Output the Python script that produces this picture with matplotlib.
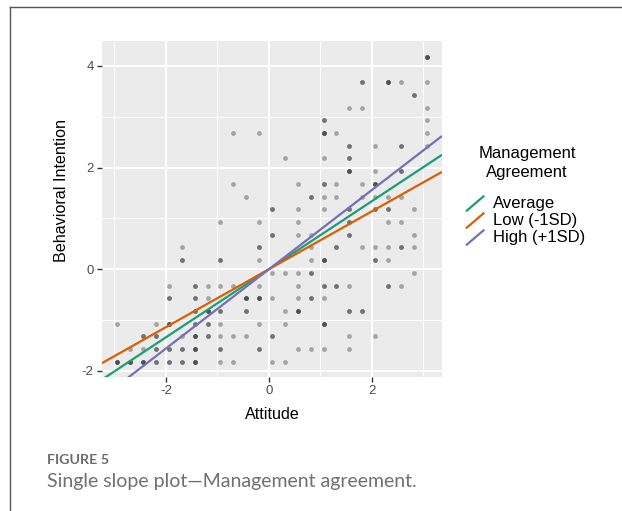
import numpy as np
import matplotlib
matplotlib.use("Agg")
import matplotlib.pyplot as plt
from matplotlib.lines import Line2D
from matplotlib.legend_handler import HandlerBase

plt.rcParams['font.family'] = ['Liberation Sans', 'DejaVu Sans']
plt.rcParams['axes.unicode_minus'] = False

# observed points (attitude, behavioral intention) and how many overlap at each spot
att = [3.06,
       1.81, 2.31, 2.56, 3.06,
       2.81,
       1.56, 1.81, 3.06,
       1.06, 3.06,
       -0.69, -0.19, 1.06, 1.31, 3.06,
       1.56, 2.06, 2.56, 3.06,
       0.31, 1.06, 1.56,
       1.56, 2.06, 2.56,
       -0.69, 0.56, 1.06, 1.31, 1.81, 2.06,
       -0.44, 0.81, 1.06, 1.31, 1.81, 2.06, 2.31, 2.56,
       0.06, 0.56, 1.06, 1.56, 2.06, 2.31, 2.81,
       -0.94, -0.19, 0.56, 1.56, 2.31, 2.56,
       0.06, 0.56, 0.81, 1.56, 2.81,
       -1.69, -0.19, 0.81, 1.31, 1.81, 2.06, 2.31, 2.56, 2.81,
       -1.69, -0.94, -0.19, 0.81, 1.06, 2.06, 2.31,
       0.06, 0.31, 0.56, 0.81, 2.81,
       -1.94, -1.44, -1.19, -0.94, -0.69, -0.19, 0.56, 1.06, 1.31, 1.56, 2.31, 2.56,
       -1.94, -1.44, -1.19, -0.44, -0.19, 0.06, 0.56, 0.81, 1.06,
       -1.44, -1.19, -0.94, -0.44, 0.31, 0.56, 1.56, 1.81,
       -2.94, -2.19, -1.94, -1.44, -1.19, -0.94, -0.19, 0.31, 1.06,
       -2.44, -2.19, -1.69, -1.44, -1.19, -0.94, -0.69, -0.44, 0.06, 1.56, 2.06,
       -2.69, -2.44, -2.19, -1.94, -1.69, -1.44, -0.94, -0.19, 0.56, 0.81, 1.06, 1.56,
       -2.94, -2.69, -2.44, -2.19, -1.94, -1.69, -1.44, -0.94, -0.69, 0.06, 0.31]
bi = [4.18,
      3.68, 3.68, 3.68, 3.68,
      3.43,
      3.18, 3.18, 3.18,
      2.93, 2.93,
      2.68, 2.68, 2.68, 2.68, 2.68,
      2.43, 2.43, 2.43, 2.43,
      2.18, 2.18, 2.18,
      1.93, 1.93, 1.93,
      1.68, 1.68, 1.68, 1.68, 1.68, 1.68,
      1.43, 1.43, 1.43, 1.43, 1.43, 1.43, 1.43, 1.43,
      1.18, 1.18, 1.18, 1.18, 1.18, 1.18, 1.18,
      0.93, 0.93, 0.93, 0.93, 0.93, 0.93,
      0.68, 0.68, 0.68, 0.68, 0.68,
      0.43, 0.43, 0.43, 0.43, 0.43, 0.43, 0.43, 0.43, 0.43,
      0.18, 0.18, 0.18, 0.18, 0.18, 0.18, 0.18,
      -0.07, -0.07, -0.07, -0.07, -0.07,
      -0.32, -0.32, -0.32, -0.32, -0.32, -0.32, -0.32, -0.32, -0.32, -0.32, -0.32, -0.32,
      -0.57, -0.57, -0.57, -0.57, -0.57, -0.57, -0.57, -0.57, -0.57,
      -0.82, -0.82, -0.82, -0.82, -0.82, -0.82, -0.82, -0.82,
      -1.07, -1.07, -1.07, -1.07, -1.07, -1.07, -1.07, -1.07, -1.07,
      -1.32, -1.32, -1.32, -1.32, -1.32, -1.32, -1.32, -1.32, -1.32, -1.32, -1.32,
      -1.57, -1.57, -1.57, -1.57, -1.57, -1.57, -1.57, -1.57, -1.57, -1.57, -1.57, -1.57,
      -1.82, -1.82, -1.82, -1.82, -1.82, -1.82, -1.82, -1.82, -1.82, -1.82, -1.82]
n_overlap = [3,
             2, 3, 1, 1,
             2,
             1, 1, 1,
             2, 1,
             1, 1, 3, 1, 1,
             2, 1, 2, 1,
             1, 1, 2,
             3, 1, 2,
             1, 1, 2, 1, 1, 3,
             1, 2, 1, 1, 1, 1, 1, 1,
             2, 1, 1, 2, 2, 2, 1,
             1, 1, 1, 2, 1, 1,
             2, 1, 1, 2, 1,
             1, 2, 1, 2, 1, 1, 1, 2, 1,
             2, 2, 1, 1, 3, 2, 1,
             1, 1, 1, 2, 1,
             1, 2, 1, 1, 1, 1, 1, 2, 2, 1, 2, 1,
             2, 2, 1, 3, 3, 1, 1, 2, 1,
             2, 3, 2, 2, 1, 3, 2, 2,
             1, 1, 3, 2, 2, 1, 1, 1, 3,
             2, 2, 1, 3, 2, 1, 1, 1, 2, 1, 1,
             1, 1, 2, 2, 2, 3, 2, 2, 1, 1, 1, 1,
             3, 3, 3, 2, 2, 2, 3, 1, 1, 1, 1]

# simple slopes of attitude at levels of management agreement
groups = ['Average', 'Low (-1SD)', 'High (+1SD)']
slopes = [0.67, 0.57, 0.78]
intercepts = [0.0, 0.0, 0.0]
colors = ['#1B9E77', '#D95F02', '#7570B3']

x_pts = np.repeat(att, n_overlap)
y_pts = np.repeat(bi, n_overlap)


class DiagonalHandler(HandlerBase):
    # ggplot's abline key: a slanted line across the key box
    def create_artists(self, legend, orig_handle, xdescent, ydescent,
                       width, height, fontsize, trans):
        line = Line2D([-xdescent, -xdescent + width],
                      [-ydescent - 0.1 * height, -ydescent + 0.95 * height],
                      color=orig_handle.get_color(), lw=orig_handle.get_linewidth(),
                      solid_capstyle='butt', transform=trans)
        return [line]


fig = plt.figure(figsize=(6.22, 5.11), dpi=100)
ax = fig.add_axes([102 / 622, 1 - 377 / 511, 340 / 622, 336 / 511])
ax.set_facecolor('#EBEBEB')

ax.scatter(x_pts, y_pts, s=12, color='black', alpha=0.3, linewidths=0, zorder=3)

ax.set_xlim(-3.24, 3.36)
ax.set_ylim(-2.12, 4.49)
xs = np.array(ax.get_xlim())
handles = []
for g, b, a, c in zip(groups, slopes, intercepts, colors):
    h, = ax.plot(xs, a + b * xs, color=c, lw=1.6, label=g, zorder=4, solid_capstyle='butt')
    handles.append(h)

ax.set_xticks([-2, 0, 2])
ax.set_yticks([-2, 0, 2, 4])
ax.set_xticks([-3, -1, 1, 3], minor=True)
ax.set_yticks([-1, 1, 3], minor=True)
ax.grid(which='major', color='white', lw=1.4)
ax.grid(which='minor', color='white', lw=0.7)
ax.set_axisbelow(True)
for s in ax.spines.values():
    s.set_visible(False)
ax.tick_params(which='major', length=3.5, width=1.0, color='#333333',
               labelsize=9.5, labelcolor='#4D4D4D', pad=2.5)
ax.tick_params(which='minor', length=0)

ax.set_xlabel('Attitude', fontsize=11.6, labelpad=7)
fig.text(62 / 622, 1 - 190 / 511, 'Behavioral Intention', rotation=90,
         fontsize=11.6, ha='center', va='center')

# legend title drawn separately, entries below it
fig.text(527 / 622, 1 - 163 / 511, 'Management\nAgreement', fontsize=12,
         ha='center', va='center', multialignment='center', linespacing=1.35)
leg = fig.legend(handles=handles, labels=groups, handler_map={Line2D: DiagonalHandler()},
                 loc='center left', bbox_to_anchor=(466 / 622, 1 - 220 / 511),
                 frameon=False, fontsize=12,
                 handlelength=1.1, handleheight=1.0, handletextpad=0.5,
                 labelspacing=0.05, borderpad=0, borderaxespad=0)

# caption below the chart
fig.text(47 / 622, 1 - 460 / 511, 'FIGURE 5', fontsize=10.3, fontweight='bold',
         color='#6B6B6B', family=['Lato', 'DejaVu Sans'], va='center')
fig.text(47 / 622, 1 - 481 / 511, 'Single slope plot\u2014Management agreement.', fontsize=14,
         color='#707070', family=['Lato', 'DejaVu Sans'], va='center')

# frame lines of the figure panel
fig.add_artist(Line2D([10 / 622, 10 / 622], [0, 1 - 7 / 511], color='#555555', lw=1.0))
fig.add_artist(Line2D([10 / 622, 1], [1 - 7 / 511, 1 - 7 / 511], color='#555555', lw=1.0))

fig.savefig('out.png', dpi=100)
